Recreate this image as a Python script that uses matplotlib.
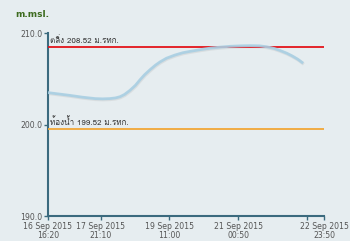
import matplotlib
matplotlib.use("Agg")
import matplotlib.pyplot as plt
import matplotlib.transforms as mtransforms
from matplotlib import font_manager
from matplotlib.ft2font import FT2Font

# hours since 16 Sep 2015 16:20 and water level (m.msl.)
hours = [0, 6, 12, 19, 25.8, 30, 34, 37, 39.5, 42, 45, 48, 50.5, 53, 56, 59, 61.5, 65, 69.7,
         74, 78, 84, 89, 95, 100, 106, 111, 116, 120, 124, 127, 131, 134, 137, 139.4]
level = [203.5, 203.35, 203.2, 203.0, 202.85, 202.82, 202.85, 202.92, 203.05, 203.3, 203.75,
         204.3, 204.9, 205.45, 206.0, 206.5, 206.85, 207.25, 207.6,
         207.85, 208.0, 208.2, 208.35, 208.47, 208.55, 208.6, 208.62, 208.6, 208.5, 208.32,
         208.12, 207.8, 207.5, 207.15, 206.8]

bank = 208.52
bed = 199.52
bank_label = "ตลิ่ง 208.52 ม.รทก."
bed_label = "ท้องน้ำ 199.52 ม.รทก."

tick_hours = [0, 28.833, 66.667, 104.5, 142.333, 151.5]
tick_labels = ["16 Sep 2015\n16:20", "17 Sep 2015\n21:10", "19 Sep 2015\n11:00",
               "21 Sep 2015\n00:50", "", "22 Sep 2015\n23:50"]
y_ticks = [190, 200, 210]


def find_thai_family():
    for f in font_manager.fontManager.ttflist:
        try:
            cmap = FT2Font(f.fname).get_charmap()
        except Exception:
            continue
        if 0x0E15 in cmap and 0x0E49 in cmap:
            return f.name
    return None


thai = find_thai_family()
fams = ([thai] if thai else []) + ['DejaVu Sans']

bg = '#e6edf0'
axc = '#3b6a7e'
fig = plt.figure(figsize=(3.5, 2.41), dpi=100, facecolor=bg)
ax = fig.add_axes([0.137, 0.102, 0.789, 0.761], facecolor=bg)

shadow = ax.transData + mtransforms.ScaledTranslation(0.4/72, -0.7/72, fig.dpi_scale_trans)
ax.plot(hours, level, color='#b0b0b0', lw=2.2, alpha=0.25, zorder=2, transform=shadow)
ax.plot(hours, level, color='#a9cfe3', lw=2.0, zorder=5, alpha=0.9)
ax.axhline(bank, color='#e3141b', lw=1.3, zorder=4)
ax.axhline(bed, color='#f2a736', lw=1.3, zorder=4)

ax.text(1.2, bank + 0.2, bank_label, fontsize=5.8, color='#333333', family=fams, va='bottom')
ax.text(1.2, bed + 0.2, bed_label, fontsize=5.8, color='#333333', family=fams, va='bottom')

ax.set_xlim(0, 151.5)
ax.set_ylim(190, 210)
ax.set_yticks(y_ticks)
ax.set_yticklabels(["%.1f" % v for v in y_ticks])
ax.set_xticks(tick_hours)
ax.set_xticklabels(tick_labels, linespacing=1.0)

for s in ['top', 'right']:
    ax.spines[s].set_visible(False)
for s in ['left', 'bottom']:
    ax.spines[s].set_color(axc)
    ax.spines[s].set_linewidth(1.5)
ax.tick_params(axis='both', colors=axc, labelcolor='#555555', labelsize=5.6, length=3, width=1, pad=1)

fig.text(0.043, 0.938, "m.msl.", fontsize=6.5, color='#3d6b1f', fontweight='bold', va='center')

fig.savefig("out.png", dpi=100, facecolor=bg)
